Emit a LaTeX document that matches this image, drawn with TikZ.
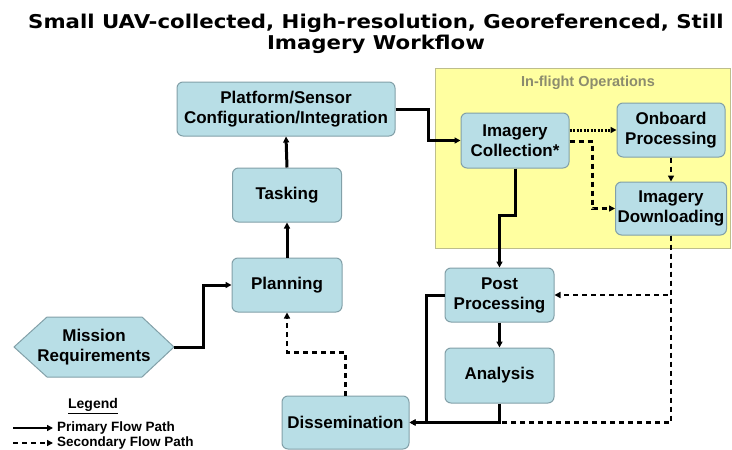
\documentclass[tikz,border=0pt]{standalone}
\usepackage{fontspec}
\setmainfont{Liberation Sans}
\newfontfamily\titlefont{DejaVu Sans}
\usetikzlibrary{arrows.meta}
\definecolor{boxfill}{RGB}{184,222,230}
\definecolor{boxline}{RGB}{130,160,168}
\definecolor{yfill}{RGB}{255,255,160}
\definecolor{yline}{RGB}{190,190,140}
\definecolor{ytext}{RGB}{140,140,110}
\tikzset{
  box/.style={draw=boxline, fill=boxfill, rounded corners=6pt, line width=1pt,
    align=center, inner sep=0pt, font=\fontsize{17}{20}\selectfont\bfseries},
  tip/.style={-{Triangle[length=6pt,width=6pt]}},
  primary/.style={tip, line width=3pt},
  secondary/.style={tip, line width=2.2pt, dash pattern=on 5pt off 4pt},
  dottedflow/.style={tip, line width=3pt, dash pattern=on 2pt off 1.5pt},
}
\begin{document}
\begin{tikzpicture}[x=1pt,y=-1pt]
\useasboundingbox (0,0) rectangle (732,450);
% title
\node[font=\titlefont\bfseries\fontsize{19}{20.5}\selectfont, align=center, xscale=1.12] (title) at (376,34)
  {Small UAV-collected, High-resolution, Georeferenced, Still\\Imagery Workflow};
% yellow region
\node[draw=yline, fill=yfill, line width=1pt, minimum width=295pt, minimum height=180pt, inner sep=0pt] (inflight) at (582.5,158) {};
\node[text=ytext, font=\fontsize{14.5}{16}\selectfont\bfseries] (iflabel) at (588,83) {In-flight Operations};
% boxes
\node[box, minimum width=218pt, minimum height=54pt] (plat) at (286,109) {Platform/Sensor\\Configuration/Integration};
\node[box, minimum width=109pt, minimum height=54pt] (task) at (287,195) {Tasking};
\node[box, minimum width=110pt, minimum height=54pt] (plan) at (287,285) {Planning};
\node[box, minimum width=127pt, minimum height=53pt] (diss) at (345.5,422.5) {Dissemination};
\node[box, minimum width=109pt, minimum height=54pt] (post) at (499.5,295) {Post\\Processing};
\node[box, minimum width=109pt, minimum height=55pt] (ana) at (499.5,375.5) {Analysis};
\node[box, minimum width=108pt, minimum height=55pt] (coll) at (515,140.5) {Imagery\\Collection*};
\node[box, minimum width=108pt, minimum height=54pt] (onb) at (671,130) {Onboard\\Processing};
\node[box, minimum width=111pt, minimum height=53pt] (down) at (671,208.5) {Imagery\\Downloading};
% hexagon
\path[draw=boxline, fill=boxfill, line width=1pt] (14,347) -- (47,317) -- (142,317) -- (174,347) -- (142,377) -- (47,377) -- cycle;
\node[font=\fontsize{17}{20}\selectfont\bfseries, align=center, inner sep=0pt, minimum width=160pt, minimum height=60pt] (mr) at (94,347) {Mission\\Requirements};
% primary flows
\draw[primary] (mr.east) -- ++(29,0) |- (plan.west);
\draw[primary] (plan.north) -- (task.south);
\draw[primary] (task.north) -- (plat.south);
\draw[primary] (plat.east) -- ++(33,0) |- (coll.west);
\draw[primary] (coll.south) -- ++(0,47) -| (post.north);
\draw[primary] (post.south) -- (ana.north);
\draw[primary] (post.west) -- ++(-18,0) |- (diss.east);
\draw[primary] (ana.south) |- (diss.east);
% secondary flows
\draw[dottedflow] ([yshift=10.5pt]coll.east) -- (onb.west);
\draw[secondary] ([yshift=-1pt]coll.east) -- ++(23,0) |- (down.west);
\draw[secondary] (onb.south) -- (down.north);
\draw[secondary] (down.south) |- (post.east);
\coordinate (join) at (ana.south |- diss.east);
\draw[secondary, -] (down.south) |- (join);
\draw[secondary] (diss.north) -- ++(0,-43) -| (plan.south);
% legend
\node[font=\fontsize{14}{16}\selectfont\bfseries] (leg) at (93,406) {\underline{Legend}};
\coordinate (p1) at (13,428);
\coordinate (p2) at (53,428);
\draw[primary, line width=1.8pt] (p1) -- (p2);
\node[anchor=west, font=\fontsize{13.5}{15}\selectfont\bfseries, inner sep=0pt] (ptxt) at (57,428) {Primary Flow Path};
\coordinate (s1) at (13,443);
\coordinate (s2) at (53,443);
\draw[secondary, line width=1.5pt] (s1) -- (s2);
\node[anchor=west, font=\fontsize{13.5}{15}\selectfont\bfseries, inner sep=0pt] (stxt) at (57,443) {Secondary Flow Path};
\end{tikzpicture}
\end{document}
